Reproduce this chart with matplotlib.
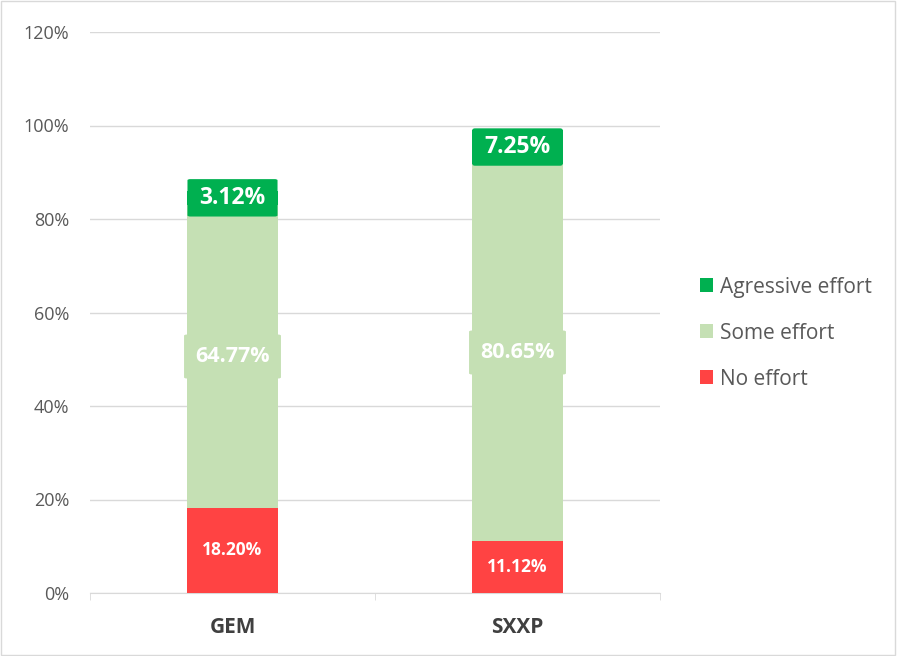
import matplotlib.pyplot as plt
import numpy as np
from matplotlib.patches import Rectangle, FancyBboxPatch

categories = ['GEM', 'SXXP']
no_effort = [18.20, 11.12]
some_effort = [64.77, 80.65]
agressive_effort = [3.12, 7.25]
series_names = ['No effort', 'Some effort', 'Agressive effort']
colors = ['#FF4343', '#C5E0B4', '#00B050']
y_ticks = [0, 20, 40, 60, 80, 100, 120]

plt.rcParams['font.family'] = ['Open Sans', 'DejaVu Sans']

fig = plt.figure(figsize=(8.97, 6.56), dpi=100)
ax = fig.add_axes([90 / 897, 63 / 656, 570 / 897, 561 / 656])

x = np.arange(len(categories))
width = 0.316
series = [no_effort, some_effort, agressive_effort]
label_sizes = [12.5, 15.5, 16.5]
# label box (width in x units, height in y units); None = no box
box_sizes = [None, (0.34, 9.4), (0.316, 8.0)]
bottom = np.zeros(len(categories))
for vals, name, col, fs, box in zip(series, series_names, colors, label_sizes, box_sizes):
    ax.bar(x, vals, width, bottom=bottom, color=col, label=name, zorder=3)
    for xi, v, b0 in zip(x, vals, bottom):
        yc = b0 + v / 2
        if box is not None:
            bw, bh = box
            ax.add_patch(FancyBboxPatch((xi - bw / 2, yc - bh / 2), bw, bh,
                                        boxstyle='round,pad=0,rounding_size=0.01',
                                        mutation_aspect=25,
                                        facecolor=col, edgecolor='none', zorder=4))
        ax.text(xi, yc, f'{v:.2f}%', ha='center', va='center',
                color='white', fontsize=fs, fontweight='bold', zorder=5)
    bottom = bottom + np.array(vals)

ax.set_xlim(-0.5, 1.5)
ax.set_ylim(0, 120)
ax.set_yticks(y_ticks)
ax.set_yticklabels([f'{t}%' for t in y_ticks], fontsize=13, color='#595959')
ax.set_xticks(x)
ax.set_xticklabels(categories, fontsize=15, fontweight='bold', color='#404040')
ax.tick_params(axis='y', length=0, pad=15)
ax.tick_params(axis='x', length=0, pad=17)
# category boundary ticks
ax.set_xticks([-0.5, 0.5, 1.5], minor=True)
ax.tick_params(axis='x', which='minor', length=5, color='#d9d9d9')

ax.grid(axis='y', color='#d9d9d9', lw=1, zorder=0)
for s in ['top', 'right', 'left']:
    ax.spines[s].set_visible(False)
ax.spines['bottom'].set_color('#d9d9d9')

handles, labels = ax.get_legend_handles_labels()
leg = fig.legend(handles[::-1], labels[::-1], loc='center left',
                 bbox_to_anchor=(0.759, 0.492), frameon=False, fontsize=15,
                 handlelength=0.65, handleheight=0.65, handletextpad=0.35,
                 labelspacing=1.2)
for t in leg.get_texts():
    t.set_color('#595959')

fig.patches.append(Rectangle((0.001, 0.001), 0.997, 0.997, transform=fig.transFigure,
                             fill=False, edgecolor='#d9d9d9', lw=1))

fig.savefig('out.png', dpi=100)
